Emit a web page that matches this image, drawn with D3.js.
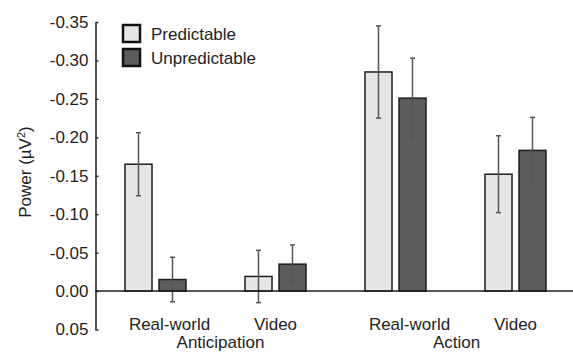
<!DOCTYPE html>
<html>
<head>
<meta charset="utf-8">
<script src="https://cdn.jsdelivr.net/npm/d3@7"></script>
<style>
  html, body { margin: 0; padding: 0; background: #fff; }
  svg { display: block; font-family: "Liberation Sans", Arial, Helvetica, sans-serif; }
</style>
</head>
<body>
<svg id="chart" width="573" height="352"></svg>
<script>
// Conditions along the x axis (phase + stimulus type)
const groups = ["Anticipation Real-world", "Anticipation Video", "Action Real-world", "Action Video"];
const groupLabels = ["Real-world", "Video", "Real-world", "Video"];
const phases = ["Anticipation", "Action"];
const series = ["Predictable", "Unpredictable"];

// Mean power (µV²) and standard error for each condition
const predictable = [-0.165, -0.019, -0.285, -0.152];
const unpredictable = [-0.015, -0.035, -0.251, -0.183];
const predictableErr = [0.041, 0.034, 0.060, 0.050];
const unpredictableErr = [0.029, 0.025, 0.052, 0.043];

// Y axis ticks
const yTicks = [-0.35, -0.30, -0.25, -0.20, -0.15, -0.10, -0.05, 0.00, 0.05];
const yTickLabels = ["-0.35", "-0.30", "-0.25", "-0.20", "-0.15", "-0.10", "-0.05", "0.00", "0.05"];

const colors = { Predictable: "#e6e6e6", Unpredictable: "#5c5c5c" };
const textColor = "#1e1e1e";

const rows = groups.map((g, i) => ({
  group: g,
  values: [
    { key: "Predictable", value: predictable[i], err: predictableErr[i] },
    { key: "Unpredictable", value: unpredictable[i], err: unpredictableErr[i] }
  ]
}));

const svg = d3.select("#chart");

const axisX = 95.5;
const y = d3.scaleLinear().domain([0.05, -0.35]).range([329.5, 22]);
const x0 = d3.scalePoint().domain(groups).range([155.5, 515.5]);
const x1 = d3.scaleBand().domain(series).range([-30.5, 30.5]).paddingInner(0.206).paddingOuter(0);

// Y axis: ticks point inward
const yAxis = d3.axisRight(y)
  .tickValues(yTicks)
  .tickSize(3)
  .tickSizeOuter(0)
  .tickFormat((d, i) => yTickLabels[i]);

const gy = svg.append("g").attr("transform", `translate(${axisX},0)`).call(yAxis);
gy.select(".domain").attr("stroke", "#1e1e1e").attr("stroke-width", 1.5);
gy.selectAll(".tick line").attr("stroke", "#1e1e1e").attr("stroke-width", 1.3);
gy.selectAll(".tick text")
  .attr("x", -7)
  .attr("text-anchor", "end")
  .attr("fill", textColor)
  .style("font-size", "17px")
  .style("font-family", "'Liberation Sans', Arial, sans-serif");

// Y axis title
const ylab = svg.append("text")
  .attr("transform", "translate(31,172) rotate(-90)")
  .attr("text-anchor", "middle")
  .attr("fill", textColor)
  .style("font-size", "17px");
ylab.append("tspan").text("Power (µV");
ylab.append("tspan").text("2").attr("dy", -6).style("font-size", "11px");
ylab.append("tspan").text(")").attr("dy", 6);

// Bars
const gGroups = svg.append("g").selectAll("g")
  .data(rows)
  .join("g")
  .attr("transform", d => `translate(${x0(d.group)},0)`);

gGroups.selectAll("rect")
  .data(d => d.values)
  .join("rect")
  .attr("x", d => x1(d.key))
  .attr("width", x1.bandwidth())
  .attr("y", d => Math.min(y(d.value), y(0)))
  .attr("height", d => Math.abs(y(0) - y(d.value)))
  .attr("fill", d => colors[d.key])
  .attr("stroke", "#1e1e1e")
  .attr("stroke-width", 1.5);

// Zero baseline across the plot
svg.append("line")
  .attr("x1", axisX).attr("x2", 573)
  .attr("y1", y(0)).attr("y2", y(0))
  .attr("stroke", "#1e1e1e").attr("stroke-width", 1.6);

// Error bars
const errG = gGroups.selectAll("g.err")
  .data(d => d.values)
  .join("g")
  .attr("class", "err")
  .attr("transform", d => `translate(${x1(d.key) + x1.bandwidth() / 2},0)`);

errG.append("line")
  .attr("x1", 0).attr("x2", 0)
  .attr("y1", d => y(d.value - d.err))
  .attr("y2", d => y(d.value + d.err))
  .attr("stroke", "#555").attr("stroke-width", 1.5);

errG.selectAll("line.cap")
  .data(d => [d.value - d.err, d.value + d.err])
  .join("line")
  .attr("class", "cap")
  .attr("x1", -2.5).attr("x2", 2.5)
  .attr("y1", v => y(v)).attr("y2", v => y(v))
  .attr("stroke", "#555").attr("stroke-width", 1.5);

// Category labels under each pair of bars
svg.append("g").selectAll("text")
  .data(groups)
  .join("text")
  .attr("x", (g, i) => x0(g) + (groupLabels[i] === "Real-world" ? 14 : 0))
  .attr("y", 330)
  .attr("text-anchor", "middle")
  .attr("fill", textColor)
  .style("font-size", "17px")
  .text((g, i) => groupLabels[i]);

// Phase labels
svg.append("g").selectAll("text")
  .data(phases)
  .join("text")
  .attr("x", (p, i) => (x0(groups[2 * i]) + x0(groups[2 * i + 1])) / 2 + (i === 0 ? 5 : 1))
  .attr("y", 347.5)
  .attr("text-anchor", "middle")
  .attr("fill", textColor)
  .style("font-size", "17px")
  .text(p => p);

// Legend
const legend = svg.append("g").selectAll("g")
  .data(series)
  .join("g")
  .attr("transform", (d, i) => `translate(123,${25 + i * 24})`);

legend.append("rect")
  .attr("width", 17).attr("height", 17)
  .attr("fill", d => colors[d])
  .attr("stroke", "#111").attr("stroke-width", 2.5);

legend.append("text")
  .attr("x", 28).attr("y", 15)
  .attr("fill", textColor)
  .style("font-size", "17px")
  .text(d => d);
</script>
</body>
</html>
